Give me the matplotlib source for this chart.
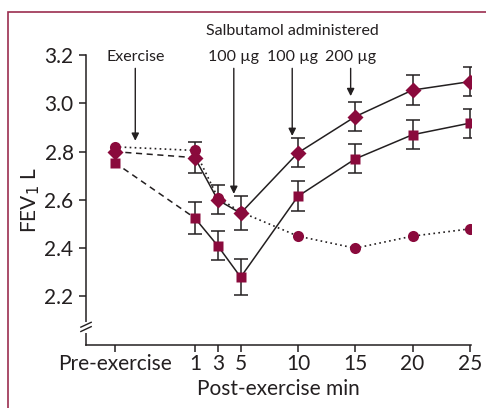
import matplotlib.pyplot as plt
from matplotlib.patches import Rectangle

plt.rcParams['font.family'] = ['Lato', 'DejaVu Sans']

# x positions: pre-exercise drawn at -6 on the minutes scale
x_pos = [-6, 1, 3, 5, 10, 15, 20, 25]
x_labels = ['Pre-exercise', '1', '3', '5', '10', '15', '20', '25']

circle_y = [2.82, 2.805, 2.61, 2.55, 2.45, 2.40, 2.45, 2.48]
diamond_y = [2.80, 2.775, 2.60, 2.545, 2.795, 2.945, 3.055, 3.09]
diamond_err = [0, 0.063, 0.06, 0.07, 0.06, 0.06, 0.062, 0.06]
square_y = [2.755, 2.525, 2.41, 2.28, 2.615, 2.77, 2.87, 2.918]
square_err = [0, 0.068, 0.06, 0.075, 0.062, 0.06, 0.06, 0.06]

# arrows: (x, text, tip y)
arrows = [(-4.2, 'Exercise', 2.845), (4.4, '100 µg', 2.625),
          (9.5, '100 µg', 2.865), (14.6, '200 µg', 3.03)]

maroon = '#8a0a3c'
dark = '#231f20'

fig = plt.figure(figsize=(4.86, 4.08), dpi=100)
fig.patches.append(Rectangle((8 / 486, -0.1), 1.2, 1 - 12 / 408 + 0.1,
                             transform=fig.transFigure, fill=False,
                             edgecolor='#9b2d4f', linewidth=1.2))
ax = fig.add_axes([0.177, 0.155, 0.792, 0.71])

# error bars (no line)
for ys, es in [(diamond_y, diamond_err), (square_y, square_err)]:
    ax.errorbar(x_pos[1:], ys[1:], yerr=es[1:], fmt='none', ecolor=dark,
                elinewidth=1.1, capsize=5, capthick=1.1, zorder=2)

# lines
ax.plot(x_pos, circle_y, linestyle=(0, (1, 2)), color=dark, lw=1.2, zorder=2)
ax.plot(x_pos[:2], diamond_y[:2], linestyle=(0, (4, 3)), color=dark, lw=1.1, zorder=2)
ax.plot(x_pos[1:], diamond_y[1:], linestyle='-', color=dark, lw=1.1, zorder=2)
ax.plot(x_pos[:2], square_y[:2], linestyle=(0, (4, 3)), color=dark, lw=1.1, zorder=2)
ax.plot(x_pos[1:], square_y[1:], linestyle='-', color=dark, lw=1.1, zorder=2)

# markers
ax.plot(x_pos, circle_y, 'o', color=maroon, ms=8, mec='none', zorder=3)
ax.plot(x_pos, square_y, 's', color=maroon, ms=7.5, mec='none', zorder=3)
ax.plot(x_pos, diamond_y, 'D', color=maroon, ms=7.8, mec='none', zorder=4)

# arrows and their labels
for ax_x, txt, tip in arrows:
    ax.annotate('', xy=(ax_x, tip), xytext=(ax_x, 3.145),
                arrowprops=dict(arrowstyle='-|>', color=dark, lw=1.0,
                                mutation_scale=11, shrinkA=0, shrinkB=0))
    ax.text(ax_x, 3.165, txt, ha='center', va='bottom', fontsize=11.5, color=dark)
ax.text(9.5, 3.27, 'Salbutamol administered', ha='center', va='bottom',
        fontsize=11.5, color=dark)

ax.set_xlim(-8.5, 25.1)
ax.set_ylim(2.0, 3.2)
ax.set_xticks(x_pos)
ax.set_xticklabels(x_labels)
ax.set_yticks([2.2, 2.4, 2.6, 2.8, 3.0, 3.2])
ax.set_yticklabels(['2.2', '2.4', '2.6', '2.8', '3.0', '3.2'])
ax.tick_params(direction='out', length=5, width=1.1, colors=dark,
               labelsize=15, pad=4)
ax.tick_params(axis='x', pad=2)
for side in ['top', 'right']:
    ax.spines[side].set_visible(False)
for side in ['left', 'bottom']:
    ax.spines[side].set_linewidth(1.1)
    ax.spines[side].set_color(dark)

# axis break marks on the y axis
for dy in [0.0, 0.018]:
    ax.plot([-8.95, -8.05], [2.055 + dy, 2.075 + dy], color=dark, lw=1.0,
            clip_on=False, zorder=5)
ax.plot([-8.5, -8.5], [2.058, 2.09], color='white', lw=2.2, clip_on=False, zorder=4)

ax.set_ylabel('FEV$_1$ L', fontsize=15, color=dark, labelpad=2)
ax.set_xlabel('Post-exercise min', fontsize=15, color=dark, labelpad=3)

fig.savefig('out.png', dpi=100)
